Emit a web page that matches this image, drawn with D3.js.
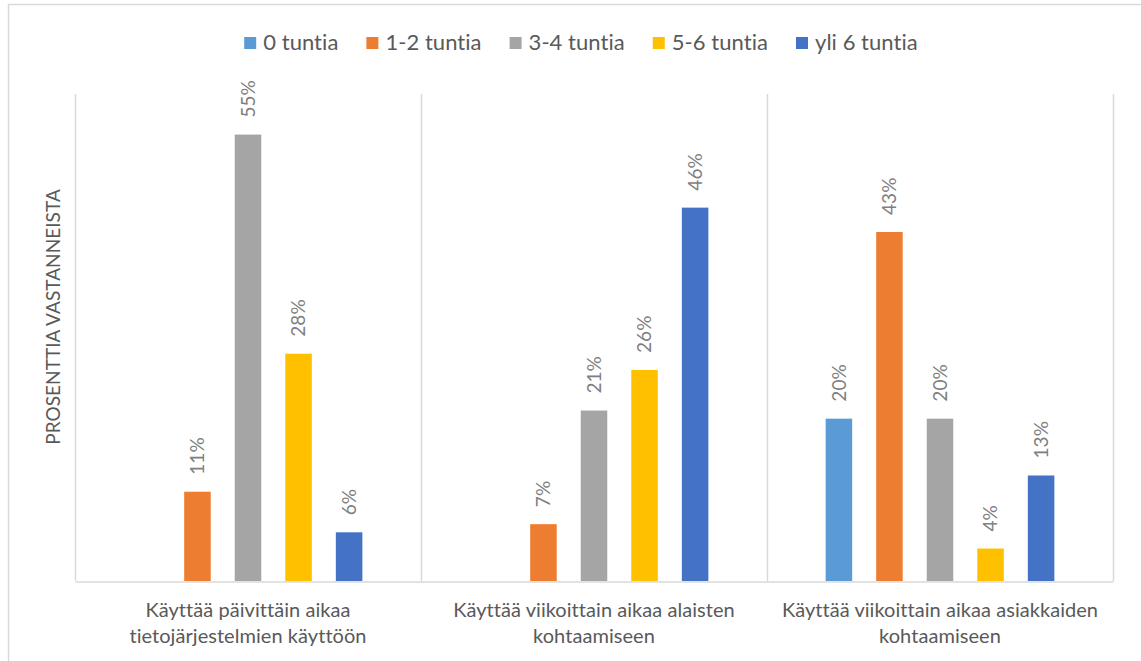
<!DOCTYPE html>
<html>
<head>
<meta charset="utf-8">
<script src="https://cdn.jsdelivr.net/npm/d3@7/dist/d3.min.js"></script>
<style>
  html, body { margin: 0; padding: 0; background: #fff; }
  svg { display: block; font-family: "Lato", "Open Sans", sans-serif; font-variant-ligatures: none; font-feature-settings: "liga" 0, "clig" 0, "dlig" 0; letter-spacing: 0.05px; }
</style>
</head>
<body>
<svg id="chart" width="1141" height="661"></svg>
<script>
// ---- data ----
const categories = [
  ["Käyttää päivittäin aikaa", "tietojärjestelmien käyttöön"],
  ["Käyttää viikoittain aikaa alaisten", "kohtaamiseen"],
  ["Käyttää viikoittain aikaa asiakkaiden", "kohtaamiseen"]
];
const seriesNames = ["0 tuntia", "1-2 tuntia", "3-4 tuntia", "5-6 tuntia", "yli 6 tuntia"];
const seriesColors = ["#5B9BD5", "#ED7D31", "#A5A5A5", "#FFC000", "#4472C4"];
// values per series, one per category (null = no bar)
const s0 = [null, null, 20];
const s1 = [11, 7, 43];
const s2 = [55, 21, 20];
const s3 = [28, 26, 4];
const s4 = [6, 46, 13];
const seriesValues = [s0, s1, s2, s3, s4];
const yMax = 60;
const yTitle = "PROSENTTIA VASTANNEISTA";

// ---- layout ----
const svg = d3.select("#chart");
const plot = { left: 75, right: 1113, top: 94, bottom: 581 };
const gridColor = "#d9d9d9";
const textColor = "#595959";
const labelColor = "#7f7f7f";

// outer chart border
svg.append("path")
  .attr("d", "M8.5,661 L8.5,4.5 L1141,4.5")
  .attr("fill", "none").attr("stroke", gridColor).attr("stroke-width", 1.5);

const catIdx = categories.map((d, i) => i);
const x0 = d3.scaleBand().domain(catIdx).range([plot.left, plot.right]).padding(0);
const x1 = d3.scaleBand().domain(seriesNames).range([0, x0.bandwidth()])
  .paddingInner(0.475).paddingOuter(1.16);
const y = d3.scaleLinear().domain([0, yMax]).range([plot.bottom, plot.top]);

// category separator lines (vertical gridlines)
const sepPositions = catIdx.map(i => x0(i)).concat([x0(catIdx[catIdx.length - 1]) + x0.bandwidth()]);
svg.append("g").selectAll("line").data(sepPositions).join("line")
  .attr("x1", d => Math.round(d) + 0.5).attr("x2", d => Math.round(d) + 0.5)
  .attr("y1", plot.top).attr("y2", plot.bottom)
  .attr("stroke", gridColor).attr("stroke-width", 1.5);

// baseline axis
const xAxis = d3.axisBottom(x0).tickSize(0).tickFormat("");
const axG = svg.append("g").attr("transform", `translate(0,${plot.bottom + 0.5})`).call(xAxis);
axG.select(".domain").attr("stroke", gridColor).attr("stroke-width", 1.5);

// bars
const flat = [];
catIdx.forEach(ci => {
  seriesNames.forEach((s, si) => {
    const v = seriesValues[si][ci];
    if (v !== null && v !== undefined) flat.push({ ci, s, si, v });
  });
});

const barG = svg.append("g");
barG.selectAll("rect").data(flat).join("rect")
  .attr("x", d => x0(d.ci) + x1(d.s))
  .attr("y", d => y(d.v))
  .attr("width", x1.bandwidth())
  .attr("height", d => y(0) - y(d.v))
  .attr("fill", d => seriesColors[d.si]);

// rotated data labels
barG.selectAll("text").data(flat).join("text")
  .attr("transform", d => `translate(${x0(d.ci) + x1(d.s) + x1.bandwidth() / 2},${y(d.v) - 17}) rotate(-90)`)
  .attr("dy", "0.36em")
  .attr("text-anchor", "start")
  .attr("fill", labelColor)
  .attr("font-size", 19)
  .text(d => d.v + "%");

// category labels
const catG = svg.append("g");
categories.forEach((lines, ci) => {
  const t = catG.append("text")
    .attr("x", x0(ci) + x0.bandwidth() / 2)
    .attr("text-anchor", "middle")
    .attr("fill", textColor)
    .attr("font-size", 20);
  lines.forEach((ln, li) => {
    t.append("tspan").attr("x", x0(ci) + x0.bandwidth() / 2).attr("y", 617 + li * 26).text(ln);
  });
});

// y-axis title
svg.append("text")
  .attr("transform", `translate(53,317) rotate(-90)`)
  .attr("text-anchor", "middle")
  .attr("dy", "0.36em")
  .attr("fill", textColor)
  .attr("font-size", 19)
  .text(yTitle);

// legend
const legG = svg.append("g");
const items = legG.selectAll("g").data(seriesNames).join("g");
items.append("rect").attr("width", 12).attr("height", 12).attr("y", 37)
  .attr("fill", (d, i) => seriesColors[i]);
items.append("text").attr("x", 19).attr("y", 50)
  .attr("fill", textColor).attr("font-size", 22).text(d => d);
const gap = 28;
const widths = [];
items.each(function () {
  widths.push(d3.select(this).select("text").node().getComputedTextLength() + 19);
});
const total = d3.sum(widths) + gap * (widths.length - 1);
let start = 581 - total / 2;
items.attr("transform", (d, i) => {
  const tx = start;
  start += widths[i] + gap;
  return `translate(${tx},0)`;
});
</script>
</body>
</html>
